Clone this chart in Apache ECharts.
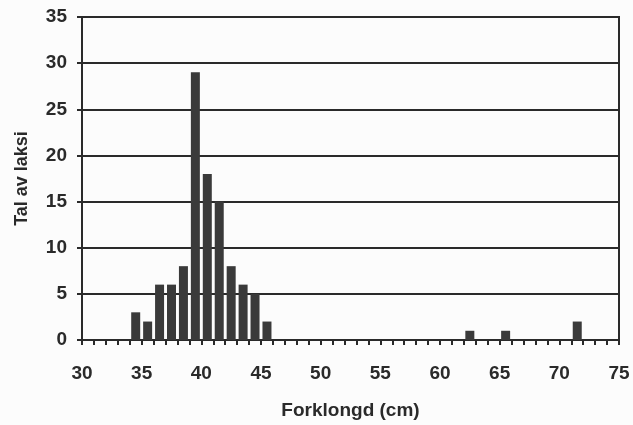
<!DOCTYPE html>
<html>
<head>
<meta charset="utf-8">
<script src="https://cdn.jsdelivr.net/npm/echarts@6/dist/echarts.min.js"></script>
<style>
html,body{margin:0;padding:0;background:#fcfcfc;}
#chart{width:633px;height:425px;}
</style>
</head>
<body>
<div id="chart"></div>
<script>
// Bin centres (cm) of 1-cm length classes and the count of salmon in each
const binCenters = [34.5, 35.5, 36.5, 37.5, 38.5, 39.5, 40.5, 41.5, 42.5, 43.5, 44.5, 45.5, 62.5, 65.5, 71.5];
const counts     = [3, 2, 6, 6, 8, 29, 18, 15, 8, 6, 5, 2, 1, 1, 2];
const xTitle = 'Forklongd (cm)';
const yTitle = 'Tal av laksi';

const chart = echarts.init(document.getElementById('chart'), null, {renderer: 'canvas'});
const ink = '#2a2a2a';
const font = 'Liberation Sans';
chart.setOption({
  backgroundColor: '#fcfcfc',
  animation: false,
  grid: {left: 82, right: 14, top: 17, bottom: 83, show: true, borderColor: ink, borderWidth: 2, backgroundColor: 'transparent'},
  xAxis: [{
    type: 'value', min: 30, max: 75, interval: 5, position: 'bottom',
    name: xTitle, nameLocation: 'middle', nameGap: 61,
    nameTextStyle: {color: ink, fontFamily: font, fontSize: 19, fontWeight: 'bold'},
    axisLine: {show: true, lineStyle: {color: ink, width: 2}},
    axisTick: {show: false},
    splitLine: {show: false},
    axisLabel: {color: ink, fontFamily: font, fontSize: 19, fontWeight: 'bold', margin: 24}
  }, {
    type: 'value', min: 30, max: 75, interval: 1, position: 'bottom', offset: 0,
    axisLine: {show: false},
    axisTick: {show: true, length: 5, lineStyle: {color: ink, width: 2}},
    axisLabel: {show: false},
    splitLine: {show: false}
  }],
  yAxis: {
    type: 'value', min: 0, max: 35, interval: 5,
    name: yTitle, nameLocation: 'middle', nameGap: 51, nameRotate: 90,
    nameTextStyle: {color: ink, fontFamily: font, fontSize: 18, fontWeight: 'bold'},
    axisLine: {show: true, lineStyle: {color: ink, width: 2}},
    axisTick: {show: true, length: 5, lineStyle: {color: ink, width: 2}},
    splitLine: {show: true, lineStyle: {color: ink, width: 2}},
    axisLabel: {color: ink, fontFamily: font, fontSize: 19, fontWeight: 'bold', margin: 15}
  },
  series: [{
    type: 'bar',
    xAxisIndex: 0,
    data: binCenters.map((x, i) => [x, counts[i]]),
    barWidth: 9,
    itemStyle: {color: '#3a3a3a'}
  }]
});
</script>
</body>
</html>
